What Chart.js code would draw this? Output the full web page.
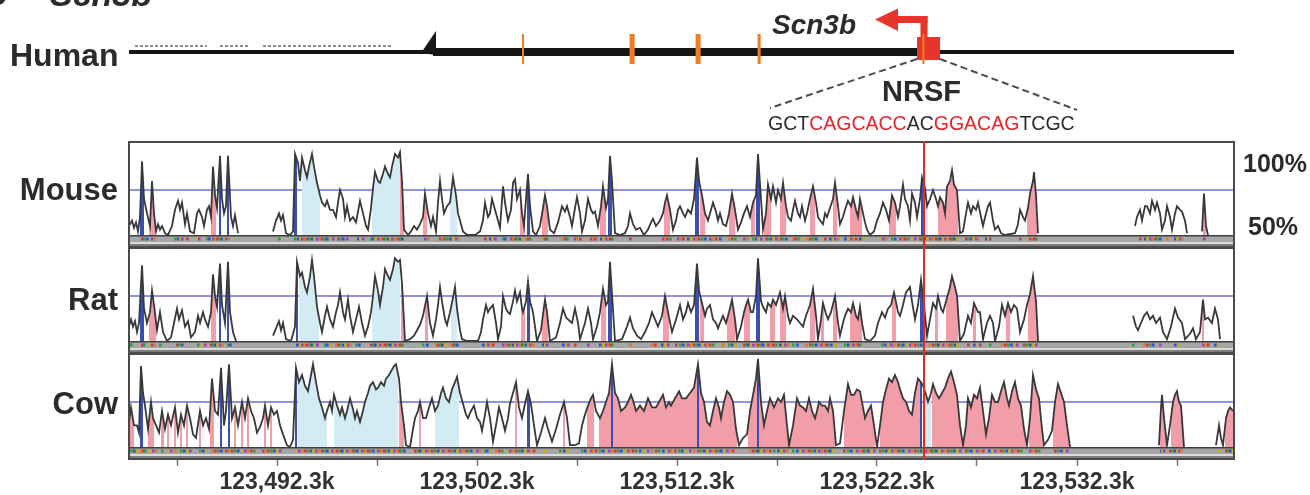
<!DOCTYPE html>
<html>
<head>
<meta charset="utf-8">
<script src="https://cdn.jsdelivr.net/npm/chart.js@4.4.1/dist/chart.umd.min.js"></script>
<style>
  body { margin: 0; background: #fff; }
  #fig { position: relative; width: 1310px; height: 495px; overflow: hidden; background: #fff;
         font-family: "Liberation Sans", Arial, sans-serif; color: #2b2b2b; }
  #fig canvas { position: absolute; left: 0; }
  .t { position: absolute; line-height: 1; white-space: nowrap; font-weight: bold; z-index: 2; }
  .sp { right: 1192px; text-align: right; font-size: 31px; }
  .red { color: #e8252a; }
</style>
</head>
<body>
<div id="fig">
  <canvas id="track" width="1310" height="141" style="top:0"></canvas>
  <canvas id="mouse" width="1310" height="106" style="top:141px"></canvas>
  <canvas id="rat" width="1310" height="106" style="top:247px"></canvas>
  <canvas id="cow" width="1310" height="142" style="top:353px"></canvas>

  <div class="t" style="left:-17px;top:-23px;font-size:33px">B</div>
  <div class="t" style="left:50px;top:-23px;font-size:34px;font-style:italic">Scn3b</div>
  <div class="t" style="left:10px;top:39px;font-size:32px">Human</div>
  <div class="t" style="left:772px;top:11px;font-size:28px;font-style:italic">Scn3b</div>
  <div class="t" style="left:882px;top:77px;font-size:29px">NRSF</div>
  <div class="t" style="left:768px;top:114px;font-size:19.5px;font-weight:normal">GCT<span class="red">CAGCACC</span>AC<span class="red">GGACAG</span>TCGC</div>
  <div class="t sp" style="top:174px">Mouse</div>
  <div class="t sp" style="top:284px">Rat</div>
  <div class="t sp" style="top:388px">Cow</div>
  <div class="t" style="left:1243px;top:151px;font-size:25px">100%</div>
  <div class="t" style="left:1248px;top:214px;font-size:25px">50%</div>
</div>
<script>
// region shown, positions below are kb from this start
const regionStartKb = 123484.9;
const regionLengthKb = 55.25;
const thresholdPct = 75;

const axisTickKb = [2.4, 7.4, 12.4, 17.4, 22.4, 27.4, 32.4, 37.4, 42.4, 47.4, 52.4];
const axisLabelKb = [7.4, 17.4, 27.4, 37.4, 47.4];

// human gene track
const humanLineKb = [0, 55.25];
const geneBodyKb = [15.2, 39.55];
const geneEndKb = [14.6, 15.35];
const repeatKb = [[0.3, 3.9], [4.55, 5.95], [6.7, 13.15]];
const humanExonKb = [[19.65, 19.75], [25.03, 25.28], [28.33, 28.58], [31.43, 31.58], [39.67, 39.77]];
const promoterKb = [39.4, 40.55];
const tssKb = 39.75;
const arrowTipKb = 37.3;
const nrsfSiteKb = 39.75;

// % identity to human, [kb, %]; null = no alignment
const mouseIdentity = [
  [0,55],[0.15,58],[0.25,54],[0.35,57],[0.45,52],[0.55,60],[0.65,91],[0.75,70],[0.9,62],[1.05,55],
  [1.15,80],[1.25,62],[1.35,52],[1.45,56],[1.55,53],[1.65,55],[1.8,51],[1.95,50],[2.15,55],[2.3,64],
  [2.45,69],[2.55,64],[2.65,68],[2.8,56],[2.9,62],[3.05,52],[3.25,51],[3.4,62],[3.5,64],[3.65,60],
  [3.75,55],[3.9,64],[4,66],[4.1,60],[4.2,88],[4.3,72],[4.4,65],[4.55,94],[4.65,70],[4.75,62],
  [4.85,66],[4.95,94],[5.1,60],[5.2,55],[5.3,61],[5.45,51],[6.3,null],
  [7.2,52],[7.35,58],[7.5,62],[7.6,58],[7.7,61],[7.85,51],[8.05,50],[8.2,52],[8.3,95],[8.45,90],
  [8.55,80],[8.65,93],[8.8,86],[8.9,82],[9,88],[9.15,95],[9.25,88],[9.4,79],[9.55,72],[9.65,68],
  [9.8,66],[9.9,69],[10.05,64],[10.2,64],[10.35,60],[10.45,68],[10.55,75],[10.7,70],[10.8,60],[10.9,66],
  [11.05,58],[11.2,60],[11.35,57],[11.45,63],[11.55,69],[11.7,62],[11.85,55],[11.95,53],[12.1,65],[12.2,76],
  [12.3,85],[12.45,80],[12.55,79],[12.7,84],[12.8,88],[12.95,84],[13.05,82],[13.15,88],[13.3,95],[13.45,93],
  [13.55,96],[13.65,80],[13.75,53],[13.95,50],[14.1,52],[14.25,55],[14.4,53],[14.55,56],[14.7,60],[14.8,73],
  [14.95,62],[15.1,55],[15.2,60],[15.35,52],[15.45,68],[15.55,80],[15.65,70],[15.75,62],[15.9,66],[16.05,68],
  [16.2,82],[16.35,72],[16.45,62],[16.55,58],[16.7,52],[16.9,50],[17.3,50],[17.55,52],[17.7,58],[17.8,68],
  [17.95,60],[18.05,62],[18.15,70],[18.3,64],[18.4,60],[18.55,54],[18.7,77],[18.8,68],[18.95,58],[19.1,64],
  [19.2,79],[19.3,81],[19.4,70],[19.55,75],[19.65,62],[19.75,55],[19.85,70],[19.95,84],[20.05,66],[20.2,52],
  [20.35,50],[20.55,55],[20.7,65],[20.8,72],[20.9,66],[21.05,53],[21.25,51],[21.45,57],[21.65,66],[21.8,63],
  [21.9,66],[22.05,60],[22.15,55],[22.3,65],[22.4,71],[22.55,62],[22.65,52],[22.8,58],[22.95,70],[23.1,64],
  [23.2,62],[23.3,63],[23.45,55],[23.6,66],[23.7,77],[23.85,65],[23.95,70],[24.05,94],[24.15,80],[24.3,51],
  [24.55,50],[24.8,51],[24.95,55],[25.05,62],[25.2,56],[25.35,53],[25.55,54],[25.75,50],[25.95,53],[26.1,57],
  [26.2,59],[26.35,55],[26.55,58],[26.7,62],[26.8,68],[26.9,72],[27.05,64],[27.2,53],[27.35,58],[27.45,64],
  [27.55,66],[27.7,62],[27.8,60],[27.95,64],[28.1,62],[28.25,70],[28.4,93],[28.5,80],[28.65,72],[28.8,62],
  [28.95,58],[29.05,62],[29.2,68],[29.35,63],[29.45,58],[29.55,62],[29.7,56],[29.85,55],[30,62],[30.15,73],
  [30.3,64],[30.45,53],[30.6,57],[30.75,62],[30.9,66],[31.05,60],[31.2,68],[31.35,72],[31.45,95],[31.6,70],
  [31.7,53],[31.85,62],[31.95,78],[32.1,70],[32.2,77],[32.35,68],[32.45,75],[32.6,70],[32.7,79],[32.85,66],
  [32.95,60],[33.1,58],[33.2,64],[33.3,69],[33.45,62],[33.55,60],[33.65,66],[33.8,58],[33.9,62],[34.05,70],
  [34.2,77],[34.35,68],[34.45,60],[34.55,58],[34.7,56],[34.8,62],[34.9,60],[35.05,65],[35.2,70],[35.3,79],
  [35.45,66],[35.55,56],[35.7,60],[35.8,64],[35.95,69],[36.1,66],[36.2,71],[36.35,64],[36.45,60],[36.55,70],
  [36.7,62],[36.8,57],[36.9,53],[37.05,50],[37.25,52],[37.4,58],[37.55,62],[37.7,68],[37.85,64],[38,58],
  [38.15,72],[38.3,68],[38.45,60],[38.55,66],[38.7,78],[38.8,70],[38.95,66],[39.05,58],[39.15,73],[39.3,68],
  [39.4,60],[39.55,70],[39.65,82],[39.8,76],[39.9,66],[40.05,70],[40.2,75],[40.35,70],[40.45,66],[40.55,71],
  [40.7,68],[40.8,62],[40.9,77],[41.05,80],[41.15,86],[41.25,78],[41.4,75],[41.55,51],[41.7,52],[41.85,62],
  [41.95,68],[42.1,62],[42.2,66],[42.35,64],[42.45,68],[42.6,60],[42.7,55],[42.85,62],[42.95,66],[43.05,68],
  [43.2,58],[43.3,53],[43.45,55],[43.6,51],[43.8,50],[44.3,51],[44.45,56],[44.55,64],[44.7,60],[44.8,58],
  [44.95,65],[45.05,73],[45.2,80],[45.25,85],[45.35,72],[45.45,51],[47.9,null],
  [50.3,55],[50.4,60],[50.55,64],[50.65,58],[50.8,66],[50.9,66],[51.05,62],[51.15,69],[51.3,64],[51.4,68],
  [51.55,62],[51.65,53],[51.8,58],[51.9,66],[52.05,60],[52.15,53],[52.3,62],[52.4,66],[52.55,64],[52.65,63],
  [52.8,58],[52.9,51],[53.3,null],[53.65,52],[53.75,73],[53.85,55],[53.95,50]
];
const mouseExons = [[0.55,0.75],[4.5,4.6],[4.9,5.0],[8.25,8.4],[19.9,20.05],[23.95,24.15],[28.3,28.5],[31.35,31.55],[39.6,39.7]];
const mouseCns = [[1.0,1.3],[4.1,4.35],[13.55,13.75],[14.7,14.9],[19.55,19.8],[20.65,20.95],[23.55,23.85],[26.75,27.05],
  [28.55,28.8],[30.0,30.3],[31.1,31.3],[31.75,32.1],[32.55,32.85],[34.05,34.3],[35.2,35.4],[36.05,36.65],[38.0,38.35],
  [40.45,41.45],[44.9,45.4],[53.7,53.85]];
const mouseUtr = [[8.65,9.55],[12.15,13.55],[16.05,16.4],[39.7,39.95]];

const ratIdentity = [
  [0,58],[0.1,62],[0.2,58],[0.3,61],[0.4,55],[0.5,60],[0.65,92],[0.75,68],[0.9,60],[1.05,66],
  [1.15,78],[1.25,70],[1.4,56],[1.55,66],[1.7,55],[1.9,50],[2.1,52],[2.25,60],[2.4,68],[2.5,62],
  [2.65,67],[2.8,58],[2.95,61],[3.1,52],[3.3,55],[3.45,64],[3.55,60],[3.7,66],[3.8,62],[3.95,58],
  [4.1,66],[4.2,87],[4.3,75],[4.4,69],[4.55,93],[4.65,70],[4.8,60],[4.95,94],[5.05,66],[5.2,55],
  [5.35,50],[6.3,null],
  [7.2,53],[7.35,57],[7.5,61],[7.6,56],[7.7,60],[7.85,51],[8.1,50],[8.3,58],[8.4,94],[8.55,86],
  [8.65,88],[8.8,80],[8.9,77],[9.05,86],[9.15,95],[9.25,86],[9.4,69],[9.55,60],[9.65,55],[9.8,64],
  [9.9,69],[10.05,62],[10.2,58],[10.35,66],[10.45,70],[10.55,77],[10.7,66],[10.8,62],[10.95,73],[11.05,64],
  [11.2,55],[11.35,62],[11.5,69],[11.65,60],[11.8,53],[11.95,58],[12.1,66],[12.2,75],[12.3,86],[12.45,78],
  [12.55,70],[12.7,80],[12.8,90],[12.95,86],[13.05,84],[13.2,90],[13.3,96],[13.45,94],[13.55,95],[13.65,82],
  [13.8,50],[14.05,51],[14.25,53],[14.4,56],[14.55,59],[14.7,64],[14.9,75],[15.05,60],[15.2,53],[15.35,62],
  [15.45,70],[15.55,80],[15.65,72],[15.8,62],[15.9,59],[16.05,66],[16.2,74],[16.3,80],[16.4,68],[16.55,56],
  [16.65,51],[16.9,50],[17.45,50],[17.6,55],[17.7,62],[17.85,70],[17.95,66],[18.05,68],[18.2,70],[18.35,60],
  [18.45,51],[18.6,58],[18.7,75],[18.85,68],[18.95,66],[19.05,65],[19.2,72],[19.3,78],[19.4,72],[19.55,77],
  [19.65,68],[19.7,66],[19.85,72],[19.95,83],[20.05,72],[20.2,66],[20.4,50],[20.6,56],[20.7,65],[20.8,73],
  [20.9,66],[21.05,50],[21.35,52],[21.55,60],[21.7,68],[21.85,63],[21.95,62],[22.15,60],[22.3,68],[22.45,60],
  [22.55,51],[22.8,60],[22.95,68],[23.1,60],[23.2,51],[23.4,58],[23.55,66],[23.7,79],[23.85,70],[23.95,72],
  [24.05,94],[24.15,76],[24.3,50],[24.65,51],[24.9,58],[25.05,63],[25.2,57],[25.4,53],[25.6,51],[25.8,55],
  [26,60],[26.15,66],[26.3,62],[26.45,58],[26.65,64],[26.8,75],[26.95,66],[27.15,55],[27.35,62],[27.55,70],
  [27.7,62],[27.85,66],[27.95,71],[28.1,66],[28.25,70],[28.4,93],[28.5,78],[28.65,71],[28.8,64],[28.9,68],
  [29.05,70],[29.2,62],[29.35,60],[29.45,57],[29.55,60],[29.7,64],[29.85,60],[30,66],[30.15,73],[30.3,62],
  [30.4,51],[30.6,58],[30.75,66],[30.85,70],[30.95,73],[31.1,66],[31.2,66],[31.35,75],[31.45,96],[31.6,72],
  [31.7,69],[31.85,66],[31.95,71],[32.1,69],[32.2,73],[32.35,70],[32.55,77],[32.7,68],[32.8,75],[32.95,64],
  [33.05,60],[33.2,64],[33.4,62],[33.55,60],[33.7,58],[33.85,64],[34.05,70],[34.2,79],[34.35,64],[34.45,51],
  [34.6,62],[34.7,71],[34.85,65],[34.95,62],[35.1,66],[35.3,75],[35.45,60],[35.55,53],[35.7,60],[35.8,64],
  [35.95,68],[36.1,66],[36.2,71],[36.35,64],[36.45,62],[36.55,69],[36.65,60],[36.8,51],[37.05,50],[37.3,53],
  [37.45,60],[37.65,66],[37.8,63],[37.95,68],[38.1,70],[38.25,77],[38.45,66],[38.55,64],[38.7,70],[38.85,77],
  [39.05,80],[39.15,72],[39.3,62],[39.45,70],[39.6,84],[39.75,70],[39.9,53],[40.05,62],[40.2,71],[40.35,68],
  [40.45,75],[40.6,68],[40.7,66],[40.9,74],[41.05,80],[41.15,86],[41.3,80],[41.4,75],[41.55,50],[41.75,54],
  [41.95,64],[42.1,60],[42.25,71],[42.45,66],[42.55,66],[42.7,51],[42.9,60],[43.05,64],[43.2,60],[43.3,50],
  [43.5,58],[43.65,70],[43.8,64],[43.95,71],[44.1,66],[44.25,70],[44.4,68],[44.55,55],[44.75,62],[44.9,70],
  [45.05,76],[45.2,86],[45.35,72],[45.45,50],[47.8,null],
  [50.2,64],[50.35,58],[50.45,56],[50.6,60],[50.75,64],[50.9,66],[51.05,62],[51.2,64],[51.35,60],[51.55,63],
  [51.7,55],[51.9,51],[52.1,58],[52.3,68],[52.45,63],[52.65,60],[52.8,51],[53.05,54],[53.2,57],[53.35,51],
  [53.55,55],[53.7,73],[53.8,62],[53.95,63],[54.15,60],[54.3,68],[54.45,62],[54.55,51]
];
const ratExons = [[0.55,0.75],[4.5,4.6],[4.9,5.0],[8.35,8.45],[19.9,20.05],[23.95,24.15],[28.3,28.5],[31.35,31.55],[39.55,39.7]];
const ratCns = [[1.0,1.35],[4.1,4.35],[13.6,13.8],[14.8,14.95],[19.6,19.8],[20.65,20.95],[23.6,23.85],[26.7,27.0],
  [28.55,28.75],[29.9,30.3],[30.75,31.05],[32.05,32.3],[32.55,32.85],[34.05,34.3],[34.6,34.75],[35.2,35.4],[36.05,36.65],
  [38.15,38.35],[40.3,40.45],[40.85,41.45],[42.2,42.35],[43.85,44.05],[44.95,45.45],[53.65,53.75]];
const ratUtr = [[8.5,9.5],[12.15,13.55],[16.1,16.4],[39.7,40.0]];

const cowIdentity = [
  [0,64],[0.1,72],[0.25,62],[0.4,62],[0.5,58],[0.6,95],[0.7,80],[0.8,73],[0.95,60],[1.1,75],
  [1.2,66],[1.35,62],[1.5,58],[1.65,70],[1.8,60],[1.95,68],[2.1,62],[2.3,72],[2.45,58],[2.6,68],
  [2.75,62],[2.9,73],[3.05,66],[3.2,57],[3.35,55],[3.55,70],[3.7,62],[3.85,66],[4,60],[4.15,88],
  [4.3,70],[4.45,68],[4.6,94],[4.75,62],[4.85,70],[5,96],[5.15,66],[5.3,72],[5.45,62],[5.65,75],
  [5.8,66],[5.95,77],[6.1,70],[6.25,66],[6.4,58],[6.55,61],[6.7,66],[6.8,73],[6.95,62],[7.1,72],
  [7.25,68],[7.4,70],[7.55,62],[7.7,57],[7.9,51],[8.05,50],[8.2,54],[8.35,94],[8.5,86],[8.65,90],
  [8.8,84],[8.95,81],[9.1,90],[9.2,96],[9.35,86],[9.5,77],[9.65,72],[9.8,66],[9.9,70],[10.05,75],
  [10.15,70],[10.25,79],[10.4,73],[10.55,68],[10.65,72],[10.8,66],[10.9,70],[11.05,77],[11.2,71],[11.3,66],
  [11.4,70],[11.55,64],[11.65,68],[11.8,75],[11.95,80],[12.05,84],[12.2,86],[12.35,82],[12.45,83],[12.6,86],
  [12.75,84],[12.85,88],[13,90],[13.1,92],[13.25,95],[13.35,96],[13.5,88],[13.6,75],[13.75,62],[13.85,51],
  [14.05,50],[14.2,60],[14.3,66],[14.45,70],[14.55,75],[14.7,66],[14.85,66],[15,72],[15.15,77],[15.3,70],
  [15.45,73],[15.6,80],[15.7,83],[15.85,77],[16,75],[16.15,82],[16.3,86],[16.4,89],[16.55,80],[16.7,74],
  [16.85,68],[16.95,66],[17.1,70],[17.25,73],[17.4,66],[17.55,64],[17.65,59],[17.8,68],[17.9,75],[18.05,66],
  [18.2,53],[18.35,62],[18.5,72],[18.65,66],[18.8,59],[18.95,66],[19.05,74],[19.2,80],[19.35,86],[19.5,72],
  [19.65,66],[19.8,74],[19.95,81],[20.1,74],[20.25,62],[20.4,51],[20.6,58],[20.8,66],[20.95,60],[21.15,53],
  [21.35,60],[21.55,68],[21.75,75],[21.9,66],[22.05,51],[22.3,51],[22.5,52],[22.65,62],[22.8,68],[22.95,73],
  [23.1,77],[23.2,79],[23.35,70],[23.55,66],[23.7,70],[23.85,75],[24,80],[24.15,96],[24.3,80],[24.45,77],
  [24.6,70],[24.8,72],[24.95,75],[25.1,79],[25.2,76],[25.35,70],[25.55,73],[25.75,70],[25.95,77],[26.15,72],
  [26.35,72],[26.5,75],[26.7,79],[26.85,72],[27,75],[27.1,73],[27.3,77],[27.5,81],[27.65,77],[27.85,77],
  [28.05,80],[28.25,83],[28.45,96],[28.6,80],[28.75,75],[28.9,64],[29.05,62],[29.2,70],[29.35,77],[29.5,72],
  [29.6,66],[29.75,75],[29.9,81],[30.05,79],[30.2,75],[30.35,60],[30.5,51],[30.7,55],[30.9,57],[31.05,70],
  [31.2,79],[31.35,88],[31.45,99],[31.6,75],[31.75,62],[31.9,70],[32.05,77],[32.25,72],[32.45,77],[32.6,75],
  [32.75,79],[32.9,62],[33,51],[33.2,62],[33.4,77],[33.55,73],[33.7,72],[33.85,70],[34,77],[34.15,70],
  [34.3,66],[34.4,70],[34.5,75],[34.65,73],[34.8,73],[34.95,70],[35.05,77],[35.2,70],[35.35,51],[35.55,52],
  [35.75,70],[35.95,85],[36.1,79],[36.25,79],[36.4,82],[36.55,81],[36.7,72],[36.8,66],[36.95,70],[37.1,73],
  [37.25,62],[37.4,50],[37.55,62],[37.7,75],[37.85,82],[38,88],[38.15,86],[38.3,90],[38.45,86],[38.55,82],
  [38.7,77],[38.85,75],[39,70],[39.15,68],[39.3,80],[39.45,88],[39.6,86],[39.7,84],[39.85,79],[39.95,75],
  [40.1,80],[40.2,85],[40.35,80],[40.5,77],[40.65,80],[40.8,83],[40.95,88],[41.1,92],[41.25,86],[41.4,79],
  [41.55,62],[41.7,51],[41.85,62],[41.95,77],[42.1,72],[42.25,79],[42.4,77],[42.55,83],[42.7,70],[42.85,57],
  [43,66],[43.15,79],[43.3,75],[43.45,75],[43.6,81],[43.75,86],[43.9,77],[44,73],[44.15,81],[44.3,86],
  [44.45,77],[44.6,73],[44.75,60],[44.9,51],[45.05,66],[45.2,90],[45.35,82],[45.5,77],[45.65,60],[45.75,51],
  [45.95,54],[46.15,59],[46.3,75],[46.45,85],[46.6,80],[46.75,75],[46.9,62],[47.05,50],[49,null],
  [51.5,51],[51.6,72],[51.65,79],[51.75,66],[51.9,51],[52.05,62],[52.2,75],[52.3,79],[52.4,81],[52.5,75],
  [52.6,73],[52.75,50],[53.5,null],
  [54.35,51],[54.5,62],[54.6,55],[54.7,51],[54.85,66],[54.95,70],[55.05,72],[55.2,70]
];
const cowExons = [[0.55,0.7],[4.55,4.65],[4.95,5.05],[8.3,8.4],[19.9,20.05],[24.1,24.2],[28.4,28.5],[31.4,31.5],[39.55,39.65]];
const cowCns = [[0,0.25],[0.95,1.25],[1.6,1.75],[1.9,2.0],[2.25,2.35],[2.55,2.65],[2.85,2.95],[3.5,3.6],[4.05,4.25],
  [5.25,5.35],[5.6,5.7],[5.9,6.0],[6.75,6.85],[7.05,7.15],[13.5,13.75],[14.5,14.6],[19.3,19.4],[21.7,21.8],[22.9,23.25],
  [23.5,24.1],[24.2,28.4],[28.5,30.4],[30.95,31.4],[31.5,35.3],[35.75,37.3],[37.55,39.55],[40.15,44.85],[45.0,45.7],
  [46.2,47.05],[51.55,51.85],[52.1,52.75],[54.8,55.25]];
const cowUtr = [[8.45,9.9],[10.25,13.45],[15.3,16.5],[39.7,40.1]];

const fontFamily = '"Liberation Sans", Arial, sans-serif';
const dotColors = ['#d23a3a', '#2f9e44', '#3050d0', '#c9b000', '#9b3fc8', '#e07a20'];

// fill under the curve, only inside the given kb ranges
const fillUnder = (chart, regions, color) => {
  const { ctx, chartArea: a, scales: { x } } = chart;
  const pts = chart.getDatasetMeta(0).data;
  regions.forEach(([s, e]) => {
    const x0 = x.getPixelForValue(s);
    const x1 = x.getPixelForValue(e);
    ctx.save();
    ctx.beginPath();
    ctx.rect(x0, a.top, x1 - x0, a.bottom - a.top);
    ctx.clip();
    ctx.fillStyle = color;
    ctx.beginPath();
    let open = false;
    let lastX = 0;
    pts.forEach((p) => {
      if (p.skip) {
        if (open) { ctx.lineTo(lastX, a.bottom); ctx.closePath(); open = false; }
        return;
      }
      if (!open) { ctx.moveTo(p.x, a.bottom); open = true; }
      ctx.lineTo(p.x, p.y);
      lastX = p.x;
    });
    if (open) { ctx.lineTo(lastX, a.bottom); ctx.closePath(); }
    ctx.fill();
    ctx.restore();
  });
};

const vistaPanel = {
  id: 'vista',
  beforeDatasetsDraw(chart, args, opts) {
    const { ctx, chartArea: a, scales: { y } } = chart;
    const ty = y.getPixelForValue(thresholdPct);
    ctx.save();
    ctx.strokeStyle = '#6c6fd0';
    ctx.lineWidth = 1.5;
    ctx.beginPath();
    ctx.moveTo(a.left, ty);
    ctx.lineTo(a.right, ty);
    ctx.stroke();
    ctx.restore();
    fillUnder(chart, opts.utr, '#d3ebf2');
    fillUnder(chart, opts.cns, '#f29ea8');
    fillUnder(chart, opts.exons, '#3a4fb3');
  },
  afterDraw(chart, args, opts) {
    const { ctx, chartArea: a, scales: { x } } = chart;
    const base = a.bottom;
    const w = a.right - a.left;
    ctx.save();
    // alignment band under the plot
    ctx.fillStyle = '#a6a6a6';
    ctx.fillRect(a.left, base, w, 12);
    ctx.fillStyle = '#dcdcdc';
    ctx.fillRect(a.left, base + 7, w, 2);
    ctx.fillStyle = '#3f3f3f';
    ctx.fillRect(a.left, base, w, 1.5);
    ctx.fillStyle = '#555';
    ctx.fillRect(a.left, base + 9.5, w, 1);
    const pts = chart.getDatasetMeta(0).data;
    const vals = chart.data.datasets[0].data;
    pts.forEach((p, i) => {
      if (!p.skip && vals[i].y >= 62) {
        ctx.fillStyle = dotColors[i % dotColors.length];
        ctx.fillRect(p.x - 1, base + 2.5, 2.6, 3);
      }
    });
    // panel frame
    ctx.strokeStyle = '#4a4a4a';
    ctx.lineWidth = 2;
    ctx.strokeRect(a.left, 1, w, base + 11);
    // NRSF site
    const rx = x.getPixelForValue(nrsfSiteKb);
    ctx.strokeStyle = '#e42a20';
    ctx.lineWidth = 2;
    ctx.beginPath();
    ctx.moveTo(rx, 0);
    ctx.lineTo(rx, base + opts.redTail);
    ctx.stroke();
    ctx.restore();
  }
};

const geneTrack = {
  id: 'geneTrack',
  afterDraw(chart) {
    const { ctx, scales: { x } } = chart;
    const px = (v) => x.getPixelForValue(v);
    const lineY = 52;
    ctx.save();
    ctx.strokeStyle = '#8c8c8c';
    ctx.lineWidth = 2;
    ctx.setLineDash([3, 2]);
    repeatKb.forEach(([s, e]) => {
      ctx.beginPath();
      ctx.moveTo(px(s), 46);
      ctx.lineTo(px(e), 46);
      ctx.stroke();
    });
    ctx.setLineDash([]);
    ctx.strokeStyle = '#161616';
    ctx.lineWidth = 4;
    ctx.beginPath();
    ctx.moveTo(px(humanLineKb[0]), lineY);
    ctx.lineTo(px(humanLineKb[1]), lineY);
    ctx.stroke();
    ctx.lineWidth = 8;
    ctx.beginPath();
    ctx.moveTo(px(geneBodyKb[0]), lineY);
    ctx.lineTo(px(geneBodyKb[1]), lineY);
    ctx.stroke();
    ctx.fillStyle = '#161616';
    ctx.beginPath();
    ctx.moveTo(px(geneEndKb[0]), 53);
    ctx.lineTo(px(geneEndKb[1]), 31);
    ctx.lineTo(px(geneEndKb[1]), 55);
    ctx.closePath();
    ctx.fill();
    // promoter box + TSS arrow
    ctx.fillStyle = '#e8352b';
    ctx.fillRect(px(promoterKb[0]), 37, px(promoterKb[1]) - px(promoterKb[0]), 23);
    const tx = px(tssKb);
    const tip = px(arrowTipKb);
    ctx.fillRect(tx - 3.5, 16, 7, 22);
    ctx.fillRect(tip + 20, 16, tx + 3.5 - (tip + 20), 7);
    ctx.beginPath();
    ctx.moveTo(tip, 19.5);
    ctx.lineTo(tip + 23, 8.5);
    ctx.lineTo(tip + 23, 31);
    ctx.closePath();
    ctx.fill();
    // exons
    ctx.fillStyle = '#f07c24';
    humanExonKb.forEach(([s, e]) => {
      ctx.fillRect(px(s), 34, Math.max(1.5, px(e) - px(s)), 30);
    });
    // zoom-in lines to the NRSF sequence
    ctx.strokeStyle = '#4d4d4d';
    ctx.lineWidth = 2;
    ctx.setLineDash([7, 4]);
    ctx.beginPath();
    ctx.moveTo(px(promoterKb[0]), 59);
    ctx.lineTo(770, 108);
    ctx.moveTo(px(promoterKb[1]), 59);
    ctx.lineTo(1077, 110);
    ctx.stroke();
    ctx.restore();
  }
};

const hiddenScales = (withAxis) => ({
  x: withAxis ? {
    type: 'linear', min: 0, max: regionLengthKb, position: 'bottom',
    afterBuildTicks: (axis) => { axis.ticks = axisTickKb.map((value) => ({ value })); },
    afterFit: (axis) => { axis.height = 48; },
    ticks: {
      autoSkip: false, maxRotation: 0, padding: 3, color: '#333',
      font: { family: fontFamily, size: 23, weight: 'bold' },
      callback: (v) => {
        if (!axisLabelKb.includes(v)) return '';
        const s = (regionStartKb + v).toFixed(1);
        return s.slice(0, 3) + ',' + s.slice(3) + 'k';
      }
    },
    grid: { drawOnChartArea: false, drawTicks: true, tickLength: 19, tickColor: '#777', tickWidth: 1.5 },
    border: { display: false }
  } : { type: 'linear', min: 0, max: regionLengthKb, display: false },
  y: { min: 50, max: 100, display: false }
});

const makePanel = (id, identity, exons, cns, utr, withAxis) => {
  new Chart(document.getElementById(id), {
    type: 'line',
    data: {
      datasets: [{
        data: identity.map(([x, y]) => ({ x, y })),
        borderColor: '#383838',
        borderWidth: 1.8,
        pointRadius: 0,
        tension: 0,
        spanGaps: false,
        fill: false
      }]
    },
    options: {
      responsive: false,
      animation: false,
      devicePixelRatio: 1,
      events: [],
      layout: { padding: { left: 129, right: 76, top: 4, bottom: withAxis ? 0 : 12 } },
      scales: hiddenScales(withAxis),
      plugins: {
        legend: { display: false },
        tooltip: { enabled: false },
        vista: { exons, cns, utr, redTail: withAxis ? 13 : 12 }
      }
    },
    plugins: [vistaPanel]
  });
};

new Chart(document.getElementById('track'), {
  type: 'scatter',
  data: { datasets: [] },
  options: {
    responsive: false,
    animation: false,
    devicePixelRatio: 1,
    events: [],
    layout: { padding: { left: 129, right: 76, top: 0, bottom: 0 } },
    scales: {
      x: { type: 'linear', min: 0, max: regionLengthKb, display: false },
      y: { min: 0, max: 1, display: false }
    },
    plugins: { legend: { display: false }, tooltip: { enabled: false } }
  },
  plugins: [geneTrack]
});

makePanel('mouse', mouseIdentity, mouseExons, mouseCns, mouseUtr, false);
makePanel('rat', ratIdentity, ratExons, ratCns, ratUtr, false);
makePanel('cow', cowIdentity, cowExons, cowCns, cowUtr, true);
</script>
</body>
</html>
